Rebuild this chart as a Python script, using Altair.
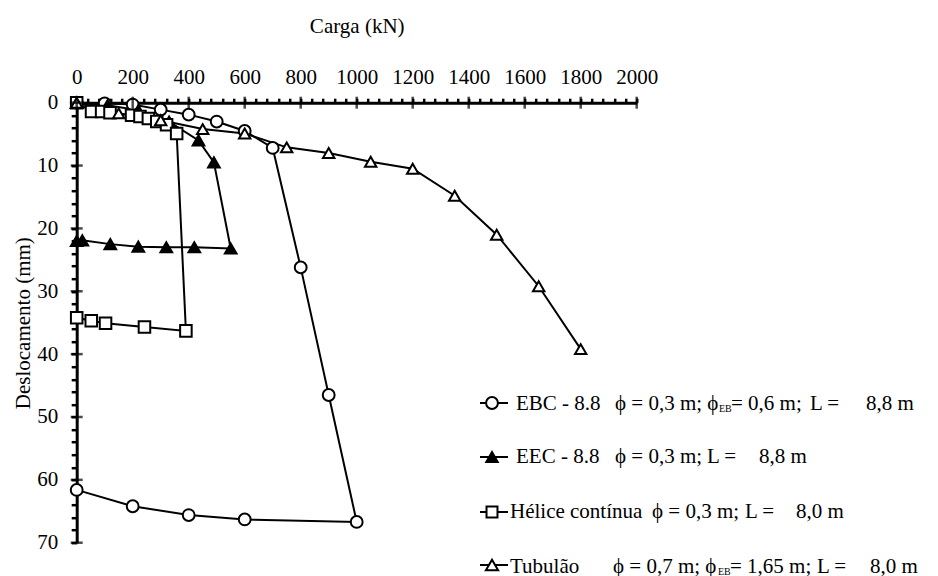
import altair as alt
import pandas as pd

# ---------------- data ----------------
x_title = "Carga (kN)"
y_title = "Deslocamento (mm)"
series_names = ["EBC - 8.8", "EEC - 8.8", "Hélice contínua", "Tubulão"]

ebc_load = [0, 100, 200, 300, 400, 500, 600, 700, 800, 900, 1000, 600, 400, 200, 0]
ebc_disp = [0, 0.1, 0.3, 1.1, 1.9, 3.0, 4.5, 7.2, 26.2, 46.5, 66.7, 66.3, 65.6, 64.2, 61.6]

eec_load = [0, 110, 220, 330, 435, 490, 550, 420, 320, 220, 120, 20, 0]
eec_disp = [0, 0.4, 1.2, 3.0, 6.0, 9.5, 23.2, 23.0, 23.0, 22.9, 22.5, 21.9, 22.0]

hel_load = [0, 53, 89, 119, 196, 226, 256, 286, 321, 357, 390, 242, 103, 52, 0]
hel_disp = [0, 1.4, 1.4, 1.6, 2.0, 2.2, 2.5, 3.0, 3.5, 4.9, 36.3, 35.7, 35.1, 34.7, 34.2]

tub_load = [0, 150, 300, 450, 600, 750, 900, 1050, 1200, 1350, 1500, 1650, 1800]
tub_disp = [0, 1.7, 2.8, 4.2, 4.9, 7.1, 8.0, 9.4, 10.5, 14.8, 21.0, 29.2, 39.2]

x_minor = list(range(0, 2001, 40))
x_major = list(range(0, 2001, 200))
y_minor = list(range(0, 71, 2))
y_major = list(range(0, 71, 10))

# legend texts: [phi part, subscript, after subscript, "L =", L value]
legend_phi = ["ϕ = 0,3 m; ϕ", "ϕ = 0,3 m;", "ϕ = 0,3 m;", "ϕ = 0,7 m; ϕ"]
legend_sub = ["EB", "", "", "EB"]
legend_after = ["= 0,6 m;", "", "", "= 1,65 m;"]
legend_L = ["L =", "L =", "L =", "L ="]
legend_Lval = ["8,8 m", "8,8 m", "8,0 m", "8,0 m"]

# ---------------- build table ----------------
rows = []
for name, loads, disps in zip(series_names,
                              [ebc_load, eec_load, hel_load, tub_load],
                              [ebc_disp, eec_disp, hel_disp, tub_disp]):
    for i, (l, d) in enumerate(zip(loads, disps)):
        rows.append({"serie": name, "idx": i, "carga": l, "desloc": d})
df = pd.DataFrame(rows)

FONT = "Liberation Serif"
W, H = 560, 440

xscale = alt.Scale(domain=[0, 2000], nice=False, zero=False)
yscale = alt.Scale(domain=[0, 70], reverse=True, nice=False, zero=False)

shapes = ["circle", "triangle-up", "square", "triangle-up"]
fills = ["white", "black", "white", "white"]
sizes = [140, 130, 120, 150]

x_axis = alt.Axis(orient="top", values=x_minor, format="d",
                  labelExpr="datum.value % 200 === 0 ? datum.label : ''",
                  title=x_title, tickSize=4.5, labelPadding=11,
                  titlePadding=30, labelFlush=False, labelOverlap=False)
y_axis = alt.Axis(orient="left", values=y_minor, format="d",
                  labelExpr="datum.value % 10 === 0 ? datum.label : ''",
                  title=y_title, tickSize=5.5, labelPadding=13.5,
                  titlePadding=3, labelOverlap=False)

base = alt.Chart(df)
lines = base.mark_line(color="black", strokeWidth=2).encode(
    x=alt.X("carga:Q", scale=xscale, axis=x_axis),
    y=alt.Y("desloc:Q", scale=yscale, axis=y_axis),
    detail="serie:N",
    order="idx:Q",
)
points = base.mark_point(filled=True, stroke="black", strokeWidth=2, opacity=1).encode(
    x=alt.X("carga:Q", scale=xscale, axis=x_axis),
    y=alt.Y("desloc:Q", scale=yscale, axis=y_axis),
    shape=alt.Shape("serie:N", scale=alt.Scale(domain=series_names, range=shapes), legend=None),
    fill=alt.Fill("serie:N", scale=alt.Scale(domain=series_names, range=fills), legend=None),
    size=alt.Size("serie:N", scale=alt.Scale(domain=series_names, range=sizes), legend=None),
)

xt = alt.Chart(pd.DataFrame({"carga": x_major})).mark_tick(
    orient="vertical", color="black", thickness=2.5, size=12).encode(
    x=alt.X("carga:Q", scale=xscale, axis=x_axis), y=alt.value(0))
yt = alt.Chart(pd.DataFrame({"desloc": y_major})).mark_tick(
    orient="horizontal", color="black", thickness=2.5, size=12).encode(
    y=alt.Y("desloc:Q", scale=yscale, axis=y_axis), x=alt.value(0))

# ---------------- custom legend (layout in pixels) ----------------
one = pd.DataFrame({"k": [0]})
OX, OY = 76.7, 102.7
base_y = [410, 463.3, 518.3, 573.3]
mark_y = [403, 457, 512, 565]
name_x = [516, 516, 510, 510]
phi_x = [615, 615, 652, 613]
sub_x = [719, 0, 0, 718]
after_x = [731, 0, 0, 730]
L_x = [810, 707, 745, 817]
Lval_x = [890, 783, 820, 894]


def txt(x, y, s, size=21, align="left"):
    return alt.Chart(one).mark_text(
        align=align, baseline="alphabetic", font=FONT, fontSize=size, color="black").encode(
        x=alt.value(x - OX), y=alt.value(y - OY), text=alt.value(s))


legend_layers = []
for i in range(4):
    legend_layers.append(alt.Chart(one).mark_rule(color="black", strokeWidth=2).encode(
        x=alt.value(480 - OX), x2=alt.value(508 - OX), y=alt.value(mark_y[i] - OY)))
    legend_layers.append(alt.Chart(one).mark_point(
        shape=shapes[i], filled=True, fill=fills[i], stroke="black", strokeWidth=2,
        size=sizes[i], opacity=1).encode(x=alt.value(492 - OX), y=alt.value(mark_y[i] - OY)))
    legend_layers.append(txt(name_x[i], base_y[i], series_names[i]))
    legend_layers.append(txt(phi_x[i], base_y[i], legend_phi[i]))
    if legend_sub[i]:
        legend_layers.append(txt(sub_x[i], base_y[i] + 2, legend_sub[i], size=10))
        legend_layers.append(txt(after_x[i], base_y[i], legend_after[i]))
    legend_layers.append(txt(L_x[i], base_y[i], legend_L[i]))
    legend_layers.append(txt(Lval_x[i], base_y[i], legend_Lval[i], align="center"))

chart = alt.layer(lines, points, xt, yt, *legend_layers).properties(
    width=W, height=H,
    autosize=alt.AutoSizeParams(type="none"),
    padding={"left": 68.7, "top": 94.7, "right": 293.3, "bottom": 35.3},
).configure_view(stroke=None).configure_axis(
    domainColor="black", domainWidth=3, tickColor="black", tickWidth=2.5,
    labelFont=FONT, labelFontSize=21, labelColor="black",
    titleFont=FONT, titleFontSize=21, titleFontWeight="normal", titleColor="black",
    grid=False,
)

chart.save("out.html", embed_options={"renderer": "svg", "actions": False})
